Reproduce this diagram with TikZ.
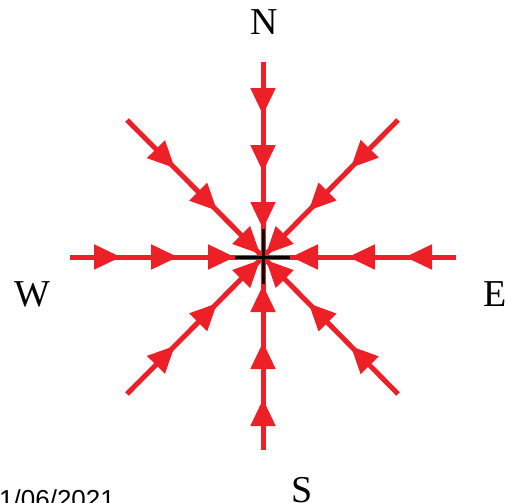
\documentclass[tikz,border=0pt]{standalone}
\usepackage{fontspec}
\setmainfont{Liberation Serif}
\newfontfamily\datefont{Liberation Sans}
\usetikzlibrary{arrows.meta,decorations.markings}
\definecolor{arrowred}{RGB}{236,32,38}
\tikzset{
  tipR/.tip={Triangle[length=27pt,width=24pt]},
  hvarm/.style={draw=arrowred,line width=5pt,postaction={decorate},
    decoration={markings,
      mark=at position -142pt with {\arrow[arrowred]{tipR}},
      mark=at position -85pt with {\arrow[arrowred]{tipR}},
      mark=at position -28pt with {\arrow[arrowred]{tipR}}}},
  diagarm/.style={draw=arrowred,line width=5pt,postaction={decorate},
    decoration={markings,
      mark=at position -125pt with {\arrow[arrowred]{tipR}},
      mark=at position -65pt with {\arrow[arrowred]{tipR}},
      mark=at position -4pt with {\arrow[arrowred]{tipR}}}},
  crossline/.style={draw=black,line width=3pt},
  dirlabel/.style={font=\fontsize{38}{40}\selectfont,inner sep=0pt}
}
\begin{document}
\begin{tikzpicture}[x=1pt,y=-1pt]
\useasboundingbox (0,0) rectangle (506,503);
\coordinate (C) at (263,257);
\coordinate (Nend) at (263,62);
\coordinate (Send) at (263,450);
\coordinate (Wend) at (70,257);
\coordinate (Eend) at (456,257);
\coordinate (NWend) at (127,120);
\coordinate (NEend) at (398,120);
\coordinate (SWend) at (127,394);
\coordinate (SEend) at (398,394);
\coordinate (CxW) at (235,257);
\coordinate (CxE) at (290,257);
\coordinate (CxN) at (263,229);
\coordinate (CxS) at (263,284);
\path[hvarm] (Nend) -- (C);
\path[hvarm] (Send) -- (C);
\path[hvarm] (Wend) -- (C);
\path[hvarm] (Eend) -- (C);
\path[diagarm] (NWend) -- (C);
\path[diagarm] (NEend) -- (C);
\path[diagarm] (SWend) -- (C);
\path[diagarm] (SEend) -- (C);
\draw[crossline] (CxW) -- (CxE);
\draw[crossline] (CxN) -- (CxS);
\node[dirlabel] (labN) at (264,22) {N};
\node[dirlabel] (labW) at (32,294) {W};
\node[dirlabel] (labE) at (495,294) {E};
\node[dirlabel] (labS) at (302,490) {S};
\node[font=\datefont\fontsize{26}{28}\selectfont,inner sep=0pt,anchor=base west] (date) at (-1,508) {1/06/2021};
\end{tikzpicture}
\end{document}
